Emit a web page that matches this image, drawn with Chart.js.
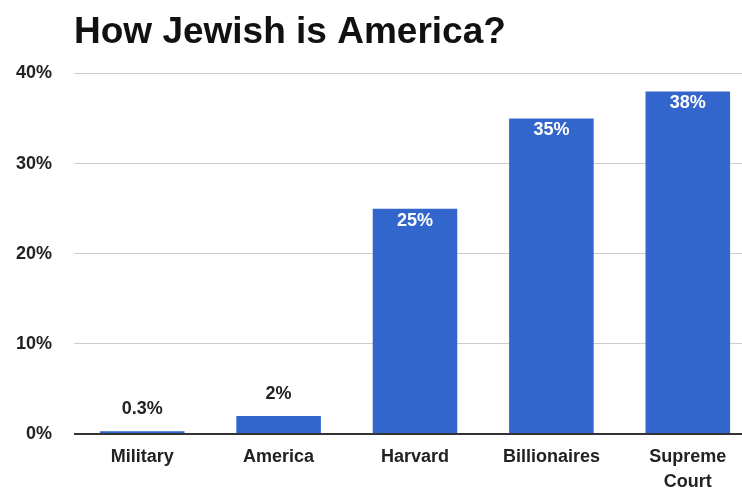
<!DOCTYPE html>
<html>
<head>
<meta charset="utf-8">
<script src="https://cdn.jsdelivr.net/npm/chart.js@4"></script>
<style>
  html, body { margin: 0; padding: 0; background: #fff; overflow: hidden; }
  #wrap { width: 756px; height: 493px; }
</style>
</head>
<body>
<div id="wrap"><canvas id="barChart"></canvas></div>
<script>
const categories = ['Military', 'America', 'Harvard', 'Billionaires', ['Supreme', 'Court']];
const shares = [0.3, 2, 25, 35, 38];
const shareLabels = ['0.3%', '2%', '25%', '35%', '38%'];
const yTicks = [0, 10, 20, 30, 40];

// value labels: white inside tall bars, dark above short ones
const valueLabels = {
  id: 'valueLabels',
  afterDatasetsDraw(chart) {
    const ctx = chart.ctx;
    const meta = chart.getDatasetMeta(0);
    ctx.save();
    ctx.font = 'bold 18px "Liberation Sans", Arial, sans-serif';
    ctx.textAlign = 'center';
    ctx.textBaseline = 'middle';
    meta.data.forEach((bar, i) => {
      const h = bar.base - bar.y;
      if (h > 40) {
        ctx.fillStyle = '#ffffff';
        ctx.fillText(shareLabels[i], bar.x, bar.y + 12);
      } else {
        ctx.fillStyle = '#222222';
        ctx.fillText(shareLabels[i], bar.x, bar.y - 22);
      }
    });
    ctx.restore();
  }
};

const ctxBar = document.getElementById('barChart').getContext('2d');
new Chart(ctxBar, {
  type: 'bar',
  data: {
    labels: categories,
    datasets: [{
      data: shares,
      backgroundColor: '#3366cc',
      barPercentage: 0.62,
      categoryPercentage: 1
    }]
  },
  options: {
    responsive: true,
    maintainAspectRatio: false,
    animation: false,
    layout: { padding: { top: 0, right: 0, bottom: 0, left: 0 } },
    plugins: {
      legend: { display: false },
      tooltip: { enabled: false },
      title: {
        display: true,
        text: 'How Jewish is America?',
        align: 'start',
        fullSize: false,
        color: '#111111',
        font: { family: '"Liberation Sans", Arial, sans-serif', size: 37, weight: 'bold' },
        padding: { top: 11, bottom: 18 }
      }
    },
    scales: {
      x: {
        afterFit: axis => { axis.height = 59; },
        grid: { display: false, drawTicks: false },
        border: { display: false },
        ticks: {
          color: '#222222',
          padding: 10,
          maxRotation: 0,
          autoSkip: false,
          font: { family: '"Liberation Sans", Arial, sans-serif', size: 18, weight: 'bold', lineHeight: 1.4 }
        }
      },
      y: {
        min: 0,
        max: 40,
        afterBuildTicks: axis => { axis.ticks = yTicks.map(v => ({ value: v })); },
        afterFit: axis => { axis.width = 74; },
        grid: {
          drawTicks: false,
          color: ctx => ctx.tick && ctx.tick.value === 0 ? '#333333' : '#cccccc',
          lineWidth: ctx => ctx.tick && ctx.tick.value === 0 ? 2 : 1
        },
        border: { display: false },
        ticks: {
          color: '#222222',
          padding: 22,
          callback: v => v + '%',
          font: { family: '"Liberation Sans", Arial, sans-serif', size: 18, weight: 'bold' }
        }
      }
    }
  },
  plugins: [valueLabels]
});
</script>
</body>
</html>
